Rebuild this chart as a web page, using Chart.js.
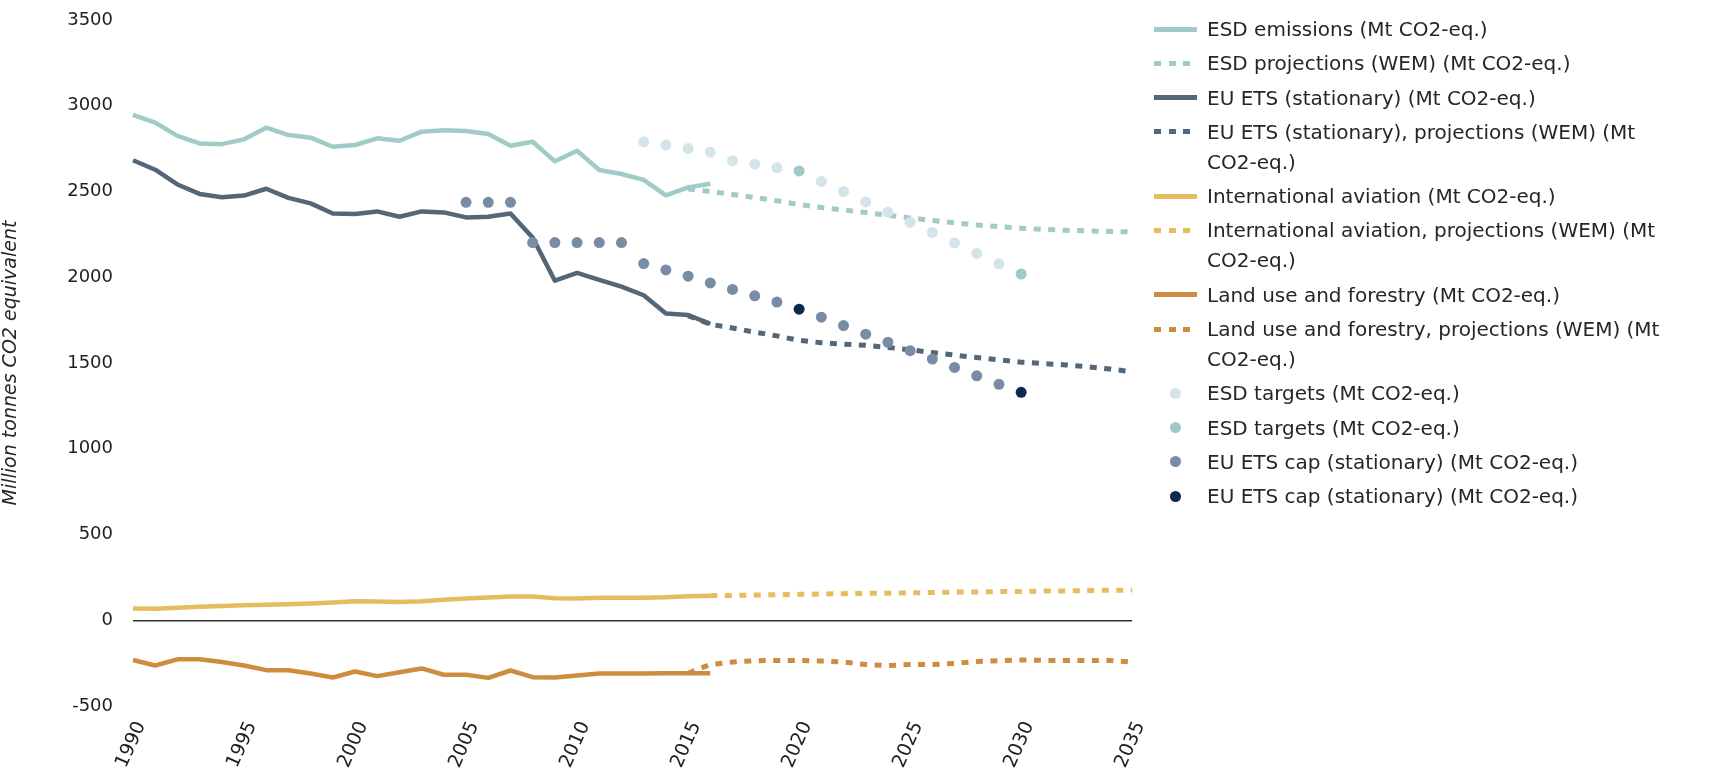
<!DOCTYPE html>
<html>
<head>
<meta charset="utf-8">
<script src="https://cdn.jsdelivr.net/npm/chart.js@4.4.1/dist/chart.umd.min.js"></script>
<style>
  html, body { margin: 0; padding: 0; background: #fff; }
  #page { position: relative; width: 1713px; height: 774px; overflow: hidden; }
  #plot { position: absolute; left: 0; top: 0; width: 1165px; height: 774px; }
  #legend { position: absolute; left: 1154px; top: 14px; width: 559px;
            font-family: 'DejaVu Sans', Verdana, sans-serif; font-size: 20px; color: #262626; }
  .item { display: flex; align-items: flex-start; margin-bottom: 4.3px; }
  .swatch { position: relative; width: 53px; height: 30px; flex: none; }
  .swatch .ln { position: absolute; left: 0; top: 12.5px; width: 43px; height: 5px; }
  .swatch .dot { position: absolute; left: 15.5px; top: 9.5px; width: 11px; height: 11px; border-radius: 50%; }
  .txt { line-height: 30px; width: 466px; }
</style>
</head>
<body>
<div id="page">
  <div id="plot"><canvas id="chart"></canvas></div>
  <div id="legend"></div>
</div>
<script>
// Years on the horizontal axis
const years = [];
for (let y = 1990; y <= 2035; y++) years.push(y);

// Tick values on the vertical axis
const yTicks = [-500, 0, 500, 1000, 1500, 2000, 2500, 3000, 3500];

// Historic emissions, 1990-2016 (Mt CO2-eq.)
const esdEmissions = [2947, 2902, 2824, 2780, 2776, 2804, 2872, 2829, 2814, 2761, 2771, 2810, 2796, 2849,
  2857, 2853, 2835, 2767, 2790, 2676, 2738, 2625, 2602, 2568, 2477, 2524, 2545];
const etsEmissions = [2682, 2627, 2541, 2486, 2467, 2476, 2516, 2463, 2431, 2372, 2369, 2384, 2353, 2384,
  2378, 2349, 2353, 2372, 2231, 1980, 2025, 1985, 1945, 1895, 1788, 1780, 1728];
const aviationEmissions = [68, 67, 73, 79, 83, 87, 91, 94, 98, 104, 111, 110, 106, 111, 119, 127, 133, 138,
  139, 128, 127, 131, 131, 131, 134, 140, 143];
const landUseEmissions = [-232, -264, -228, -228, -244, -264, -291, -291, -311, -334, -299, -326, -303, -281,
  -318, -318, -336, -293, -332, -334, -322, -311, -311, -311, -309, -309, -309];

// Projections with existing measures (WEM)
const esdProjections = [2515, 2500, 2483, 2465, 2446, 2424, 2407, 2392, 2377, 2362, 2346, 2331, 2317, 2305,
  2295, 2286, 2279, 2274, 2270, 2267, 2264];                       // 2015-2035
const etsProjections = [1776, 1726, 1704, 1680, 1658, 1632, 1618, 1610, 1603, 1591, 1577, 1561, 1546, 1532,
  1518, 1505, 1497, 1489, 1478, 1465, 1449];                       // 2015-2035
const aviationProjections = [143, 145, 147, 149, 151, 153, 155, 157, 158, 160, 162, 164, 165, 167, 168, 170,
  171, 173, 175, 176];                                             // 2016-2035
const landUseProjections = [-309, -258, -244, -236, -234, -234, -238, -244, -258, -264, -258, -258, -252, -240,
  -236, -232, -234, -234, -234, -234, -244];                       // 2015-2035

// Targets and caps
const esdTargets = [2790, 2771, 2751, 2729, 2680, 2659, 2639, null, 2559, 2500, 2439, 2380, 2321, 2261, 2200,
  2139, 2078];                                                     // 2013-2029
const esdTargetYears = [2020, 2030];
const esdTargetValues = [2620, 2019];
const etsCap = [2437, 2437, 2437, 2202, 2202, 2202, 2202, 2202, 2080, 2043, 2006, 1967, 1929, 1892, 1855, null,
  1767, 1718, 1668, 1621, 1572, 1523, 1474, 1425, 1376];           // 2005-2029
const etsCapYears = [2020, 2030];
const etsCapValues = [1814, 1329];

// Place a run of yearly values on the full year axis
function fromYear(start, values) {
  return years.map(y => {
    const i = y - start;
    return i >= 0 && i < values.length ? values[i] : null;
  });
}
// Place single values at given years
function atYears(list, values) {
  return years.map(y => {
    const i = list.indexOf(y);
    return i >= 0 ? values[i] : null;
  });
}

const C = {
  esd: '#a0cbc7', ets: '#536779', aviation: '#e5bd5e', landUse: '#cd8c40',
  esdTarget: '#d4e4ea', esdTarget2: '#9ec9c6', cap: '#788ca3', cap2: '#0e284e'
};
const DASH = [7, 7.5];

function lineSet(label, data, color, dashed) {
  return {
    label, data, borderColor: color, backgroundColor: color,
    borderWidth: dashed ? 5 : 4.5, borderDash: dashed ? DASH : [], borderCapStyle: 'butt',
    borderJoinStyle: 'round', pointRadius: 0, pointHoverRadius: 0, tension: 0, fill: false,
    spanGaps: false, order: 2, kind: dashed ? 'dash' : 'line'
  };
}
function dotSet(label, data, color) {
  return {
    label, data, borderColor: color, backgroundColor: color, showLine: false,
    pointRadius: 5.5, pointHoverRadius: 5.5, pointBorderWidth: 0, order: 1, kind: 'dot'
  };
}

const datasets = [
  lineSet('ESD emissions (Mt CO2-eq.)', fromYear(1990, esdEmissions), C.esd, false),
  lineSet('ESD projections (WEM) (Mt CO2-eq.)', fromYear(2015, esdProjections), C.esd, true),
  lineSet('EU ETS (stationary) (Mt CO2-eq.)', fromYear(1990, etsEmissions), C.ets, false),
  lineSet('EU ETS (stationary), projections (WEM) (Mt CO2-eq.)', fromYear(2015, etsProjections), C.ets, true),
  lineSet('International aviation (Mt CO2-eq.)', fromYear(1990, aviationEmissions), C.aviation, false),
  lineSet('International aviation, projections (WEM) (Mt CO2-eq.)', fromYear(2016, aviationProjections), C.aviation, true),
  lineSet('Land use and forestry (Mt CO2-eq.)', fromYear(1990, landUseEmissions), C.landUse, false),
  lineSet('Land use and forestry, projections (WEM) (Mt CO2-eq.)', fromYear(2015, landUseProjections), C.landUse, true),
  dotSet('ESD targets (Mt CO2-eq.)', fromYear(2013, esdTargets), C.esdTarget),
  dotSet('ESD targets (Mt CO2-eq.)', atYears(esdTargetYears, esdTargetValues), C.esdTarget2),
  dotSet('EU ETS cap (stationary) (Mt CO2-eq.)', fromYear(2005, etsCap), C.cap),
  dotSet('EU ETS cap (stationary) (Mt CO2-eq.)', atYears(etsCapYears, etsCapValues), C.cap2)
];
// the 2020 / 2030 markers sit on top
datasets[11].order = 0;
datasets[9].order = 0;

const tickFont = { family: "'DejaVu Sans', sans-serif", size: 18 };

new Chart(document.getElementById('chart'), {
  type: 'line',
  data: { labels: years.map(String), datasets },
  options: {
    responsive: true, maintainAspectRatio: false, animation: false,
    layout: { padding: { left: 0, right: 19, top: 20, bottom: 0 } },
    plugins: { legend: { display: false }, tooltip: { enabled: false } },
    events: [],
    scales: {
      x: {
        grid: { display: false, drawTicks: false },
        border: { display: false },
        ticks: {
          autoSkip: false, minRotation: 66, maxRotation: 66, padding: 12, labelOffset: 8,
          color: '#1e1e1e', font: { family: "'DejaVu Sans', sans-serif", size: 19 },
          callback: (v, i) => (years[i] % 5 === 0 ? String(years[i]) : '')
        },
        afterFit: s => { s.height = 68; }
      },
      y: {
        min: -500, max: 3500,
        afterBuildTicks: s => { s.ticks = yTicks.map(v => ({ value: v })); },
        grid: {
          drawTicks: false,
          color: c => (c.tick && c.tick.value === 0 ? '#333' : 'rgba(0,0,0,0)'),
          lineWidth: c => (c.tick && c.tick.value === 0 ? 1.5 : 0)
        },
        border: { display: false },
        ticks: { padding: 20, color: '#1e1e1e', font: tickFont, callback: v => String(v) },
        title: {
          display: true, text: 'Million tonnes CO2 equivalent', color: '#262626',
          font: { family: "'DejaVu Sans', sans-serif", size: 19, style: 'italic' },
          padding: { top: 0, bottom: 0 }
        },
        afterFit: s => { s.width = 133; s.paddingTop = 0; s.paddingBottom = 0; }
      }
    }
  }
});

// Legend
const legend = document.getElementById('legend');
datasets.forEach(ds => {
  const item = document.createElement('div');
  item.className = 'item';
  const sw = document.createElement('div');
  sw.className = 'swatch';
  const mark = document.createElement('div');
  if (ds.kind === 'dot') {
    mark.className = 'dot';
    mark.style.background = ds.backgroundColor;
  } else {
    mark.className = 'ln';
    mark.style.background = ds.kind === 'dash'
      ? `repeating-linear-gradient(90deg, ${ds.borderColor} 0 7px, transparent 7px 14.5px)`
      : ds.borderColor;
  }
  sw.appendChild(mark);
  const txt = document.createElement('div');
  txt.className = 'txt';
  txt.textContent = ds.label;
  item.appendChild(sw);
  item.appendChild(txt);
  legend.appendChild(item);
});
</script>
</body>
</html>
